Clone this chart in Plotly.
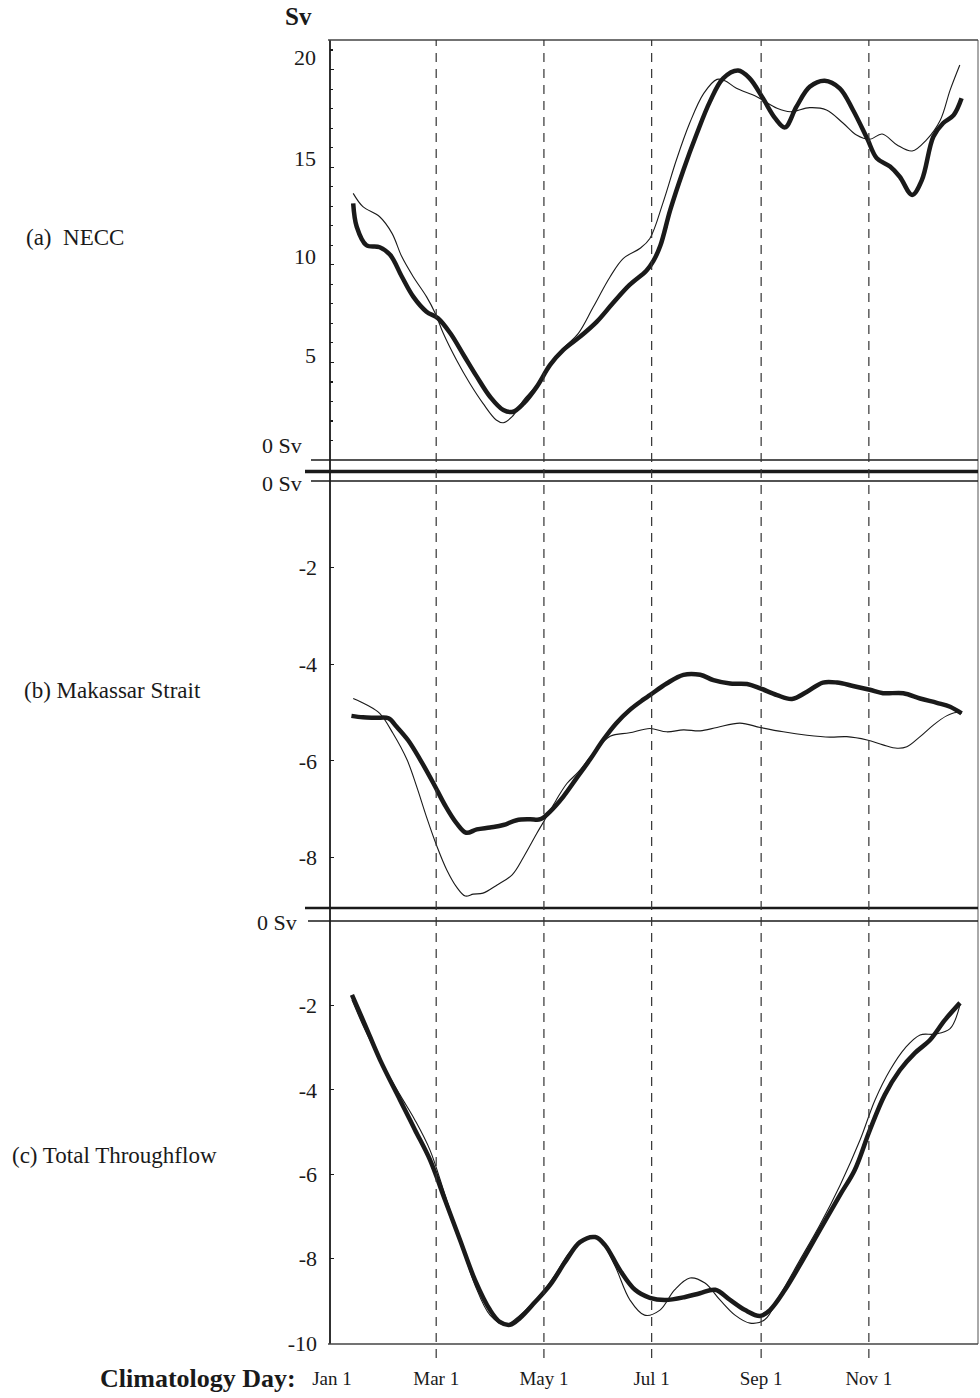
import plotly.graph_objects as go

# ---------------- data ----------------
month_days = [0, 59, 120, 181, 243, 304]
month_labels = ["Jan 1", "Mar 1", "May 1", "Jul 1", "Sep 1", "Nov 1"]

necc_thick_day = [12, 14, 19.5, 27, 33, 39.5, 46, 53.5, 60, 67, 74.5, 82, 89.5, 97, 102.5, 108.5, 116, 123.5, 131,
                  140.5, 150, 159, 168.5, 178, 182, 186, 191.5, 199, 206.5, 214, 221.5, 230, 236.5, 244, 251, 256.5,
                  263, 270.5, 279, 287.5, 295, 303, 308.5, 316, 321.5, 328.5, 334, 340.5, 346, 352, 356.5]
necc_thick = [13.15, 11.95, 11.0, 10.9, 10.5, 9.4, 8.37, 7.6, 7.26, 6.49, 5.38, 4.27, 3.24, 2.56, 2.47, 2.9, 3.76,
              4.87, 5.64, 6.32, 7.09, 8.03, 8.97, 9.7, 10.2, 11.0, 12.8, 14.86, 16.7, 18.36, 19.55, 19.95, 19.55,
              18.53, 17.5, 17.04, 18.1, 19.12, 19.43, 19.04, 17.93, 16.48, 15.46, 15.03, 14.51, 13.58, 14.34, 16.56,
              17.25, 17.67, 18.53]

necc_thin_day = [12, 17.5, 27, 34, 39.5, 46, 53.5, 58.5, 63, 70.5, 78, 85.5, 93, 97, 102, 108.5, 116, 123.5, 131,
                 139.5, 148, 157.5, 165, 174.5, 180, 187.5, 195, 202.5, 210.5, 218, 222.5, 229, 240.5, 252, 259.5,
                 270.5, 280, 289.5, 297, 304.5, 311.5, 320, 328.5, 336.5, 344.5, 350, 355.5]
necc_thin = [13.66, 12.98, 12.46, 11.61, 10.42, 9.39, 8.37, 7.51, 6.49, 5.12, 3.93, 2.9, 2.05, 1.91, 2.22, 3.07, 3.84,
             4.87, 5.72, 6.49, 7.85, 9.39, 10.33, 10.85, 11.35, 13.2, 15.37, 17.25, 18.78, 19.5, 19.43, 19.04, 18.61,
             18.02, 17.84, 18.05, 17.93, 17.25, 16.65, 16.43, 16.7, 16.14, 15.83, 16.39, 17.42, 18.95, 20.24]

mak_thick_day = [11, 17.5, 25, 32, 36.5, 43, 50, 57.5, 64, 70.5, 76, 82, 89.5, 97, 104.5, 112, 118, 123.5, 131, 138.5,
                 146, 153.5, 161, 168.5, 176, 180, 189.5, 199, 208.5, 216, 225.5, 235, 242.5, 252, 260.5, 269, 278,
                 286, 295, 304.5, 312, 323.5, 333, 342.5, 350, 356.5]
mak_thick = [-5.07, -5.10, -5.11, -5.12, -5.29, -5.57, -5.98, -6.47, -6.92, -7.29, -7.49, -7.42, -7.38, -7.33, -7.23,
             -7.21, -7.21, -7.05, -6.74, -6.36, -5.98, -5.57, -5.22, -4.95, -4.74, -4.64, -4.40, -4.22, -4.22, -4.33,
             -4.40, -4.41, -4.50, -4.64, -4.72, -4.57, -4.38, -4.38, -4.45, -4.53, -4.60, -4.60, -4.71, -4.80, -4.88,
             -5.02]

mak_thin_day = [12, 19.5, 27, 34.5, 42.5, 48, 53.5, 59.5, 65, 70.5, 75.5, 80, 85.5, 93.5, 102, 108.5, 116, 121.5, 127,
                133, 139.5, 148, 157.5, 168.5, 180, 189.5, 199, 208.5, 218, 231, 242.5, 255.5, 269, 282, 291.5, 303,
                312, 320, 325.5, 333, 340.5, 348, 353.5, 356.5]
mak_thin = [-4.71, -4.84, -5.02, -5.43, -5.98, -6.54, -7.16, -7.78, -8.26, -8.61, -8.80, -8.76, -8.74, -8.57, -8.36,
            -7.99, -7.50, -7.16, -6.81, -6.47, -6.23, -5.84, -5.49, -5.42, -5.33, -5.40, -5.36, -5.38, -5.31, -5.22,
            -5.31, -5.40, -5.47, -5.51, -5.50, -5.57, -5.67, -5.74, -5.71, -5.50, -5.26, -5.07, -5.00, -5.02]

tot_thick_day = [11.3, 18.7, 27.2, 38.5, 47, 55.5, 64, 72.5, 81, 89.5, 95, 100.8, 106.5, 115, 123.4, 132, 140.4, 149,
                 154.6, 163, 171.6, 180, 188.6, 200, 208.4, 217, 225.4, 233.9, 242.4, 248, 256.5, 265, 276.3, 287.7,
                 296, 304.6, 313, 321.6, 330, 338.6, 347, 355.6]
tot_thick = [-1.75, -2.46, -3.29, -4.24, -4.95, -5.66, -6.61, -7.56, -8.51, -9.22, -9.50, -9.57, -9.41, -9.03, -8.63,
             -8.08, -7.61, -7.49, -7.68, -8.27, -8.74, -8.93, -8.98, -8.91, -8.82, -8.74, -8.98, -9.22, -9.36, -9.22,
             -8.74, -8.15, -7.32, -6.49, -5.90, -4.95, -4.12, -3.53, -3.13, -2.82, -2.35, -1.94]

tot_thin_day = [11.3, 18.7, 27.2, 38.5, 47, 55.5, 64, 72.5, 81, 89.5, 98, 106.5, 117.8, 126.3, 134.8, 146, 151.8, 160,
                168.7, 177, 185.7, 194, 202.7, 211.2, 219.7, 228.2, 236.7, 245, 253.7, 265, 276.3, 287.7, 299, 307.5,
                316, 324.5, 333, 341.4, 350, 355.6]
tot_thin = [-1.87, -2.58, -3.29, -4.12, -4.72, -5.43, -6.49, -7.56, -8.63, -9.34, -9.57, -9.34, -8.86, -8.39, -7.84,
            -7.51, -7.56, -8.15, -8.98, -9.34, -9.22, -8.74, -8.46, -8.58, -8.98, -9.34, -9.53, -9.45, -8.86, -8.03,
            -7.20, -6.26, -5.19, -4.24, -3.53, -3.01, -2.70, -2.68, -2.55, -1.99]

panel_a_ticks = [5, 10, 15, 20]
panel_b_ticks = [-2, -4, -6, -8]
panel_c_ticks = [-2, -4, -6, -8, -10]

# ---------------- layout helpers ----------------
W, H = 980, 1398
FONT = "Liberation Serif"
INK = "#1a1a1a"


def fx(p):
    return p / W


def fy(p):
    return 1 - p / H


def hyph(v):
    return str(v).replace("\u2212", "-")


fig = go.Figure()

series = [
    (necc_thin_day, necc_thin, "y", 1.1),
    (necc_thick_day, necc_thick, "y", 4.5),
    (mak_thin_day, mak_thin, "y2", 1.1),
    (mak_thick_day, mak_thick, "y2", 4.5),
    (tot_thin_day, tot_thin, "y3", 1.1),
    (tot_thick_day, tot_thick, "y3", 4.5),
]
for xd, yd, ya, w in series:
    fig.add_trace(go.Scatter(x=xd, y=yd, xaxis="x", yaxis=ya, mode="lines",
                             line=dict(color=INK, width=w, shape="spline", smoothing=1.0),
                             showlegend=False, hoverinfo="skip"))

X_LEFT, X_RIGHT = 330, 978
PX_PER_DAY = 1.766
x_range = [(X_LEFT - 332) / PX_PER_DAY, (X_RIGHT - 332) / PX_PER_DAY]

axis_common = dict(showgrid=False, zeroline=False, showline=False, anchor="x", automargin=False,
                   ticks="inside", ticklen=4, tickcolor=INK, tickwidth=1.2,
                   tickfont=dict(family=FONT, size=22, color=INK), ticklabelstandoff=12)

fig.update_layout(
    width=W, height=H, autosize=False, showlegend=False,
    margin=dict(l=0, r=0, t=0, b=0, pad=0, autoexpand=False),
    paper_bgcolor="white", plot_bgcolor="white",
    xaxis=dict(domain=[fx(X_LEFT), fx(X_RIGHT)], range=x_range, anchor="y3", automargin=False,
               showgrid=False, zeroline=False, showline=False,
               tickvals=month_days, ticktext=month_labels, ticks="",
               tickfont=dict(family=FONT, size=19, color=INK), ticklabelstandoff=21),
    yaxis=dict(domain=[fy(460), fy(40)], range=[0, (460 - 40) / 19.52],
               tickvals=panel_a_ticks, showticklabels=False,
               minor=dict(ticks="inside", ticklen=3, dtick=1, tickcolor=INK),
               **{k: v for k, v in axis_common.items() if k not in ("tickfont", "ticklabelstandoff")}),
    yaxis2=dict(domain=[fy(907), fy(481)], range=[-(907 - 471) / 48.3, -(481 - 471) / 48.3],
                tickvals=panel_b_ticks, ticktext=[hyph(v) for v in panel_b_ticks], **axis_common),
    yaxis3=dict(domain=[fy(1344), fy(921)], range=[-(1344 - 921) / 42.2, 0],
                tickvals=panel_c_ticks, ticktext=[hyph(v) for v in panel_c_ticks], **axis_common),
)

shapes = []
# frame
shapes.append(dict(type="line", xref="paper", yref="paper", x0=fx(330), x1=fx(330), y0=fy(1344), y1=fy(40),
                   line=dict(color=INK, width=1.8)))
shapes.append(dict(type="line", xref="paper", yref="paper", x0=fx(978), x1=fx(978), y0=fy(1344), y1=fy(40),
                   line=dict(color="#555", width=1)))
shapes.append(dict(type="line", xref="paper", yref="paper", x0=fx(328), x1=fx(978), y0=fy(40), y1=fy(40),
                   line=dict(color="#444", width=1.3)))
shapes.append(dict(type="line", xref="paper", yref="paper", x0=fx(328), x1=fx(978), y0=fy(1344), y1=fy(1344),
                   line=dict(color="#444", width=1.3)))
# separators between panels
for yp, x0, w in [(460, 311, 1.3), (471.5, 305, 3.5), (481, 311, 1.3), (908, 305, 2.6), (921, 308, 1.6)]:
    shapes.append(dict(type="line", xref="paper", yref="paper", x0=fx(x0), x1=fx(978), y0=fy(yp), y1=fy(yp),
                       line=dict(color=INK, width=w)))
# dashed month lines
for d in month_days[1:]:
    shapes.append(dict(type="line", xref="x", yref="paper", x0=d, x1=d, y0=fy(1358), y1=fy(40),
                       line=dict(color="#333", width=1.2, dash="9px,7px")))
fig.update_layout(shapes=shapes)

ann = []
for v, sh in zip(panel_a_ticks, [7, 8, 9, 12]):
    ann.append(dict(x=fx(318), y=v, xref="paper", yref="y", xanchor="right", yanchor="middle", yshift=sh,
                    text=str(v), showarrow=False, font=dict(family=FONT, size=22, color=INK)))
for txt, xp, yp in [("0 Sv", 304, 446), ("0 Sv", 304, 484), ("0 Sv", 299, 922)]:
    ann.append(dict(x=fx(xp), y=fy(yp), xref="paper", yref="paper", xanchor="right", yanchor="middle",
                    text=txt, showarrow=False, font=dict(family=FONT, size=22, color=INK)))
ann.append(dict(x=fx(298), y=fy(17), xref="paper", yref="paper", xanchor="center", yanchor="middle",
                text="<b>Sv</b>", showarrow=False, font=dict(family=FONT, size=25, color=INK)))
for txt, xp, yp in [("(a)  NECC", 24, 238), ("(b) Makassar Strait", 22, 690), ("(c) Total Throughflow", 10, 1155)]:
    ann.append(dict(x=fx(xp), y=fy(yp), xref="paper", yref="paper", xanchor="left", yanchor="middle",
                    text=txt, showarrow=False, font=dict(family=FONT, size=23, color=INK)))
ann.append(dict(x=fx(298), y=fy(1378), xref="paper", yref="paper", xanchor="right", yanchor="middle",
                text="<b>Climatology Day:</b>", showarrow=False, font=dict(family=FONT, size=26, color=INK)))
fig.update_layout(annotations=ann)

fig.write_html(
    "out.html",
    config={"displayModeBar": False, "staticPlot": True},
    post_script="document.documentElement.style.margin='0';document.body.style.margin='0';"
                "document.body.style.padding='0';document.body.style.overflow='hidden';",
)
